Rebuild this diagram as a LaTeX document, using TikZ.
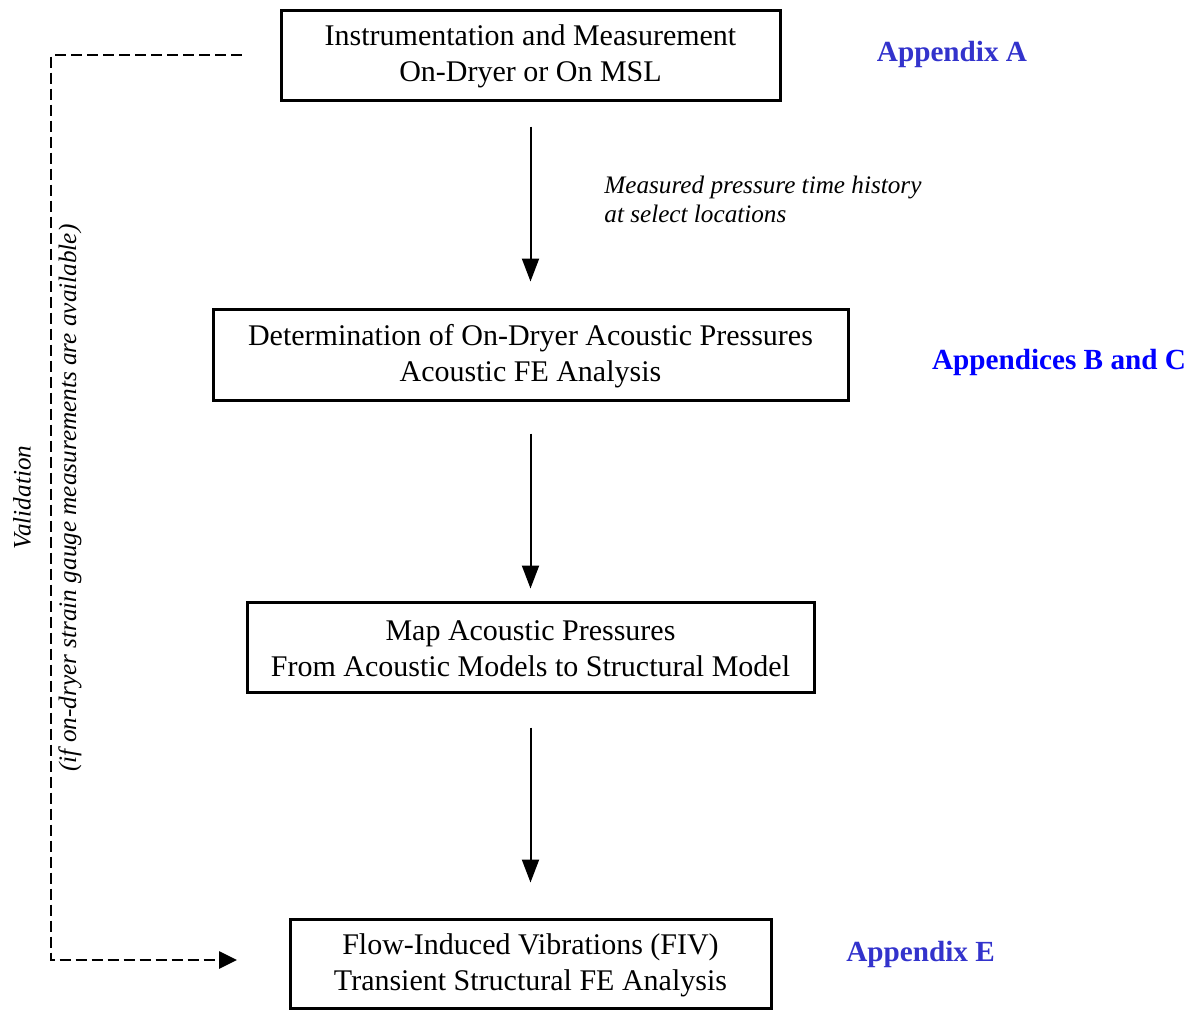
\documentclass[tikz,border=0pt]{standalone}
\usepackage{fontspec}
\setmainfont{Liberation Serif}
\usetikzlibrary{arrows.meta}
\definecolor{appA}{HTML}{3333CC}
\definecolor{appB}{HTML}{0000FF}
\begin{document}
\begin{tikzpicture}[x=0.5pt,y=-0.5pt,
  procbox/.style={draw=black, line width=1.5pt, rectangle, inner sep=0pt, align=center,
    font=\fontsize{15}{18}\selectfont},
  applabel/.style={font=\bfseries\fontsize{14.6}{17}\selectfont, inner sep=0pt},
  itlabel/.style={font=\itshape\fontsize{12.6}{14.5}\selectfont, inner sep=0pt},
  flowarrow/.style={line width=1pt, -{Triangle[length=11.5pt,width=8.5pt]}},
  valarrow/.style={line width=1.4pt, dash pattern=on 5.5pt off 2.5pt, -{Triangle[length=9pt,width=8.5pt]}}
]
\useasboundingbox (0,0) rectangle (1199,1009);
\node[procbox, minimum width=249.5pt, minimum height=45pt] (b1) at (530.5,55)
  {\rule{0pt}{12pt}Instrumentation and Measurement\\On-Dryer or On MSL};
\node[procbox, minimum width=317.5pt, minimum height=45.5pt] (b2) at (530.5,354.5)
  {\rule{0pt}{12pt}Determination of On-Dryer Acoustic Pressures\\Acoustic FE Analysis};
\node[procbox, minimum width=283.5pt, minimum height=45pt] (b3) at (530.5,647)
  {\rule{0pt}{12pt}Map Acoustic Pressures\\From Acoustic Models to Structural Model};
\node[procbox, minimum width=240.5pt, minimum height=44.5pt] (b4) at (530.5,963.5)
  {\rule{0pt}{12pt}Flow-Induced Vibrations (FIV)\\Transient Structural FE Analysis};

\node[applabel, text=appA] (la) at (952,54.5) {Appendix A};
\node[applabel, text=appB] (lb) at (1059,362.5) {Appendices B and C};
\node[applabel, text=appA] (le) at (920.5,954.5) {Appendix E};

\node[itlabel, anchor=west, align=left] (mp) at (604,199)
  {Measured pressure time history\\at select locations};

\node[itlabel, rotate=90] (v1) at (22,497.5) {Validation};
\node[itlabel, rotate=90] (v2) at (70,498) {(if on-dryer strain gauge measurements are available)};

\draw[flowarrow, shorten <=12.5pt, shorten >=13pt] (b1) -- (b2);
\draw[flowarrow, shorten <=16pt, shorten >=6pt] (b2) -- (b3);
\draw[flowarrow, shorten <=17pt, shorten >=17.5pt] (b3) -- (b4);

\coordinate (c1) at (51,55);
\coordinate (c2) at (51,960);
\coordinate (c3) at (290,960);
\draw[valarrow, shorten <=19pt, shorten >=26.5pt] (b1.west) -- (c1) -- (c2) -- (c3);
\end{tikzpicture}
\end{document}
